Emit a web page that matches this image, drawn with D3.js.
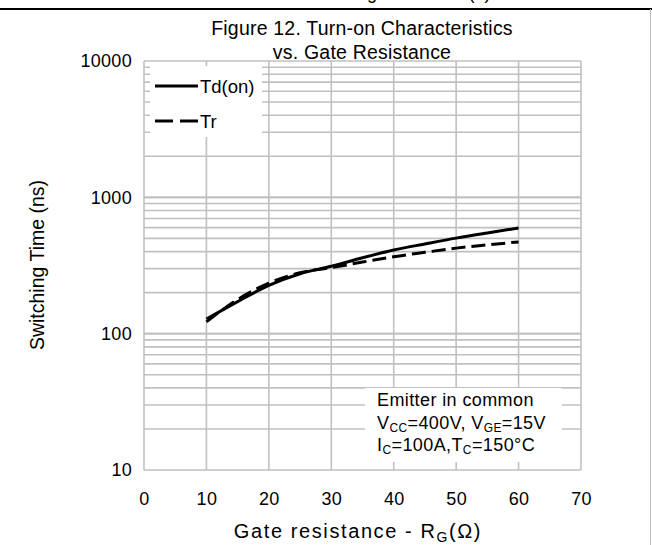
<!DOCTYPE html>
<meta charset="utf-8">
<script src="https://d3js.org/d3.v7.min.js"></script>
<style>
  body { margin: 0; background: #fff; }
  text { font-family: "Liberation Sans", Arial, sans-serif; fill: #000; }
</style>
<div id="plot_div"></div>
<script>
    // gate resistance (ohm)
    const rg = [10, 15, 20, 25, 30, 35, 40, 45, 50, 55, 60];
    // switching times (ns)
    const td_on = [128, 172, 226, 275, 312, 360, 411, 455, 502, 548, 596];
    const tr = [122, 178, 235, 280, 305, 335, 367, 395, 424, 448, 471];
    const x_ticks = [0, 10, 20, 30, 40, 50, 60, 70];
    const y_ticks = [10, 100, 1000, 10000];
    const series = [
        { name: "Td(on)", values: td_on, dash: null },
        { name: "Tr", values: tr, dash: "14,6" }
    ];

    var margin = { top: 61, right: 71, bottom: 75, left: 144 },
        W = 652, H = 545,
        width = W - margin.left - margin.right,
        height = H - margin.top - margin.bottom;

    var root = d3.select("#plot_div").append("svg")
        .attr("width", W).attr("height", H);

    // page frame bits (header text is cut by the page edge, as in the source)
    root.append("text").attr("x", 300).attr("y", -1).style("font-size", "18px")
        .text("Switching Waveform (1)");
    root.append("line").attr("x1", 0).attr("x2", W).attr("y1", 9).attr("y2", 9)
        .attr("stroke", "#000").attr("stroke-width", 2);
    root.append("line").attr("x1", 650.5).attr("x2", 650.5).attr("y1", 9).attr("y2", H)
        .attr("stroke", "#bbb").attr("stroke-width", 1);

    // title
    root.append("text").attr("x", 362).attr("y", 35).attr("text-anchor", "middle")
        .style("font-size", "19.5px").style("letter-spacing", "0.2px").text("Figure 12. Turn-on Characteristics");
    root.append("text").attr("x", 362).attr("y", 59).attr("text-anchor", "middle")
        .style("font-size", "19.5px").style("letter-spacing", "0.2px").text("vs. Gate Resistance");

    var svg = root.append("g")
        .attr("transform", "translate(" + margin.left + "," + margin.top + ")");

    var x = d3.scaleLinear().domain([0, 70]).range([0, width]);
    var y = d3.scaleLog().domain([10, 10000]).range([height, 0]);

    // grid
    var minor = [];
    for (let d = 10; d < 10000; d *= 10)
        for (let k = 1; k <= 10; k++) minor.push(d * k);
    svg.append("g").selectAll("line").data(minor).join("line")
        .attr("x1", 0).attr("x2", width)
        .attr("y1", d => y(d)).attr("y2", d => y(d))
        .attr("stroke", "#c0c0c0").attr("stroke-width", 1.6);
    svg.append("g").selectAll("line").data(x_ticks).join("line")
        .attr("x1", d => x(d)).attr("x2", d => x(d))
        .attr("y1", 0).attr("y2", height)
        .attr("stroke", "#c0c0c0").attr("stroke-width", 1.6);

    // legend box
    svg.append("rect").attr("x", 6).attr("y", 5).attr("width", 112).attr("height", 71)
        .attr("fill", "#fff");
    // annotation box
    svg.append("rect").attr("x", 221).attr("y", 327).attr("width", 197).attr("height", 74)
        .attr("fill", "#fff");

    // axes
    var xa = svg.append("g").attr("transform", "translate(0," + height + ")")
        .call(d3.axisBottom(x).tickValues(x_ticks).tickSize(0).tickPadding(22));
    var ya = svg.append("g")
        .call(d3.axisLeft(y).tickValues(y_ticks).tickFormat(d3.format("d")).tickSize(0).tickPadding(12));
    [xa, ya].forEach(a => {
        a.select(".domain").remove();
        a.selectAll("text").style("font-size", "18px").style("letter-spacing", "0.3px")
            .style("font-family", "'Liberation Sans', Arial, sans-serif");
    });

    // curves
    var line = d3.line().curve(d3.curveMonotoneX);
    series.forEach(s => {
        svg.append("path")
            .attr("d", line(rg.map((r, i) => [x(r), y(s.values[i])])))
            .attr("fill", "none").attr("stroke", "#000").attr("stroke-width", 3)
            .attr("stroke-dasharray", s.dash);
    });

    // legend
    series.forEach((s, i) => {
        var ly = 25 + i * 35;
        svg.append("line").attr("x1", 11).attr("x2", 54).attr("y1", ly).attr("y2", ly)
            .attr("stroke", "#000").attr("stroke-width", 3).attr("stroke-dasharray", s.dash ? "18,7" : null);
        svg.append("text").attr("x", 56).attr("y", ly + 6.5).style("font-size", "18.5px").text(s.name);
    });

    // annotation
    var ann = svg.append("text").style("font-size", "18px").style("letter-spacing", "0.4px");
    ann.append("tspan").attr("x", 233).attr("y", 345).text("Emitter in common");
    var l2 = ann.append("tspan").attr("x", 233).attr("y", 368);
    l2.append("tspan").text("V");
    l2.append("tspan").attr("dy", 3).style("font-size", "12px").text("CC");
    l2.append("tspan").attr("dy", -3).text("=400V, V");
    l2.append("tspan").attr("dy", 3).style("font-size", "12px").text("GE");
    l2.append("tspan").attr("dy", -3).text("=15V");
    var l3 = ann.append("tspan").attr("x", 233).attr("y", 390);
    l3.append("tspan").text("I");
    l3.append("tspan").attr("dy", 3).style("font-size", "12px").text("C");
    l3.append("tspan").attr("dy", -3).text("=100A,T");
    l3.append("tspan").attr("dy", 3).style("font-size", "12px").text("C");
    l3.append("tspan").attr("dy", -3).text("=150°C");

    // axis titles
    var xt = root.append("text").attr("x", 358).attr("y", 538).attr("text-anchor", "middle")
        .style("font-size", "20px").style("letter-spacing", "1.6px");
    xt.append("tspan").text("Gate resistance - R");
    xt.append("tspan").attr("dy", 4).style("font-size", "14px").text("G");
    xt.append("tspan").attr("dy", -4).text("(Ω)");
    root.append("text").attr("transform", "translate(44,265) rotate(-90)")
        .attr("text-anchor", "middle").style("font-size", "19.5px").text("Switching Time (ns)");
</script>
